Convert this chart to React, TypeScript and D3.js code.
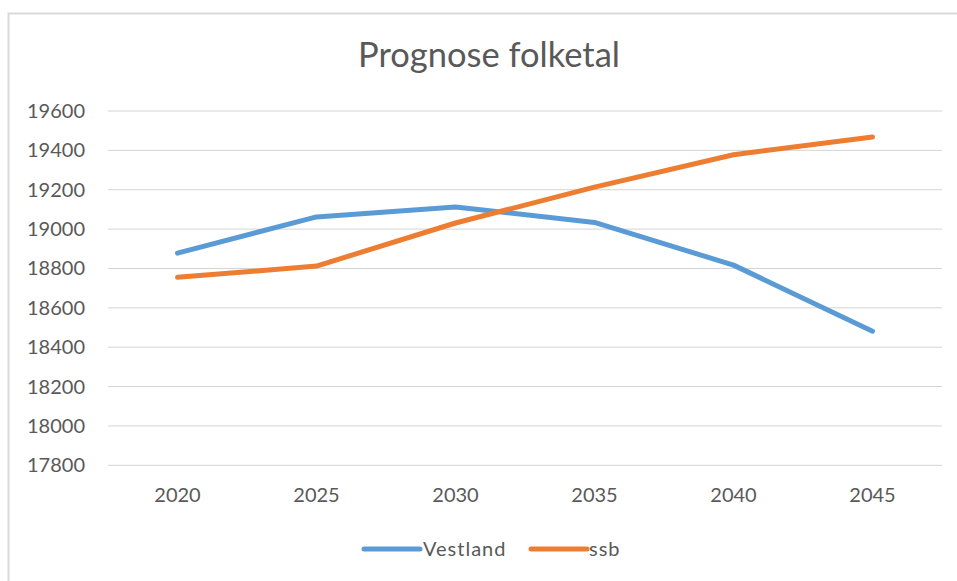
import React from "react";
import * as d3 from "d3";

const years = ["2020", "2025", "2030", "2035", "2040", "2045"];
const vestland = [18878, 19062, 19112, 19034, 18817, 18481];
const ssb = [18755, 18812, 19031, 19213, 19378, 19468];
const yTicks = [17800, 18000, 18200, 18400, 18600, 18800, 19000, 19200, 19400, 19600];
const seriesNames = ["Vestland", "ssb"];
const seriesColors = ["#5B9BD5", "#ED7D31"];

const W = 957;
const H = 581;
const FONT = "Lato, 'Open Sans', sans-serif";

export default function App() {
  const x = d3.scaleBand<string>().domain(years).range([108, 942]);
  const y = d3.scaleLinear().domain([17800, 19600]).range([465.3, 111]);
  const line = d3
    .line<number>()
    .x((_, i) => (x(years[i]) as number) + x.bandwidth() / 2)
    .y((d) => y(d));
  const series = [vestland, ssb];

  return (
    <svg
      width={W}
      height={H}
      style={{ position: "absolute", left: 0, top: 0, background: "#fff" }}
    >
      <rect x={8.5} y={13.5} width={1000} height={1000} fill="#fff" stroke="#d9d9d9" strokeWidth={2} />
      <text
        x={489}
        y={67}
        textAnchor="middle"
        fontFamily={FONT}
        fontSize={34.5}
        fill="#595959"
      >
        Prognose folketal
      </text>
      {yTicks.map((t) => (
        <g key={t}>
          <line x1={108} x2={942} y1={y(t)} y2={y(t)} stroke="#d4d4d4" strokeWidth={1} />
          <text
            x={85}
            y={y(t)}
            dy="0.35em"
            textAnchor="end"
            fontFamily={FONT}
            fontSize={20}
            fill="#595959"
          >
            {t}
          </text>
        </g>
      ))}
      {years.map((yr) => (
        <text
          key={yr}
          x={(x(yr) as number) + x.bandwidth() / 2}
          y={502}
          textAnchor="middle"
          fontFamily={FONT}
          fontSize={20}
          fill="#595959"
        >
          {yr}
        </text>
      ))}
      {series.map((s, i) => (
        <path
          key={seriesNames[i]}
          d={line(s) as string}
          fill="none"
          stroke={seriesColors[i]}
          strokeWidth={5}
          strokeLinecap="round"
          strokeLinejoin="round"
        />
      ))}
      <g>
        <line x1={364} x2={420} y1={549} y2={549} stroke={seriesColors[0]} strokeWidth={5} strokeLinecap="round" />
        <text x={423} y={556} fontFamily={FONT} fontSize={20} letterSpacing={1} fill="#595959">
          {seriesNames[0]}
        </text>
        <line x1={531} x2={587} y1={549} y2={549} stroke={seriesColors[1]} strokeWidth={5} strokeLinecap="round" />
        <text x={589} y={556} fontFamily={FONT} fontSize={20} letterSpacing={1} fill="#595959">
          {seriesNames[1]}
        </text>
      </g>
    </svg>
  );
}
